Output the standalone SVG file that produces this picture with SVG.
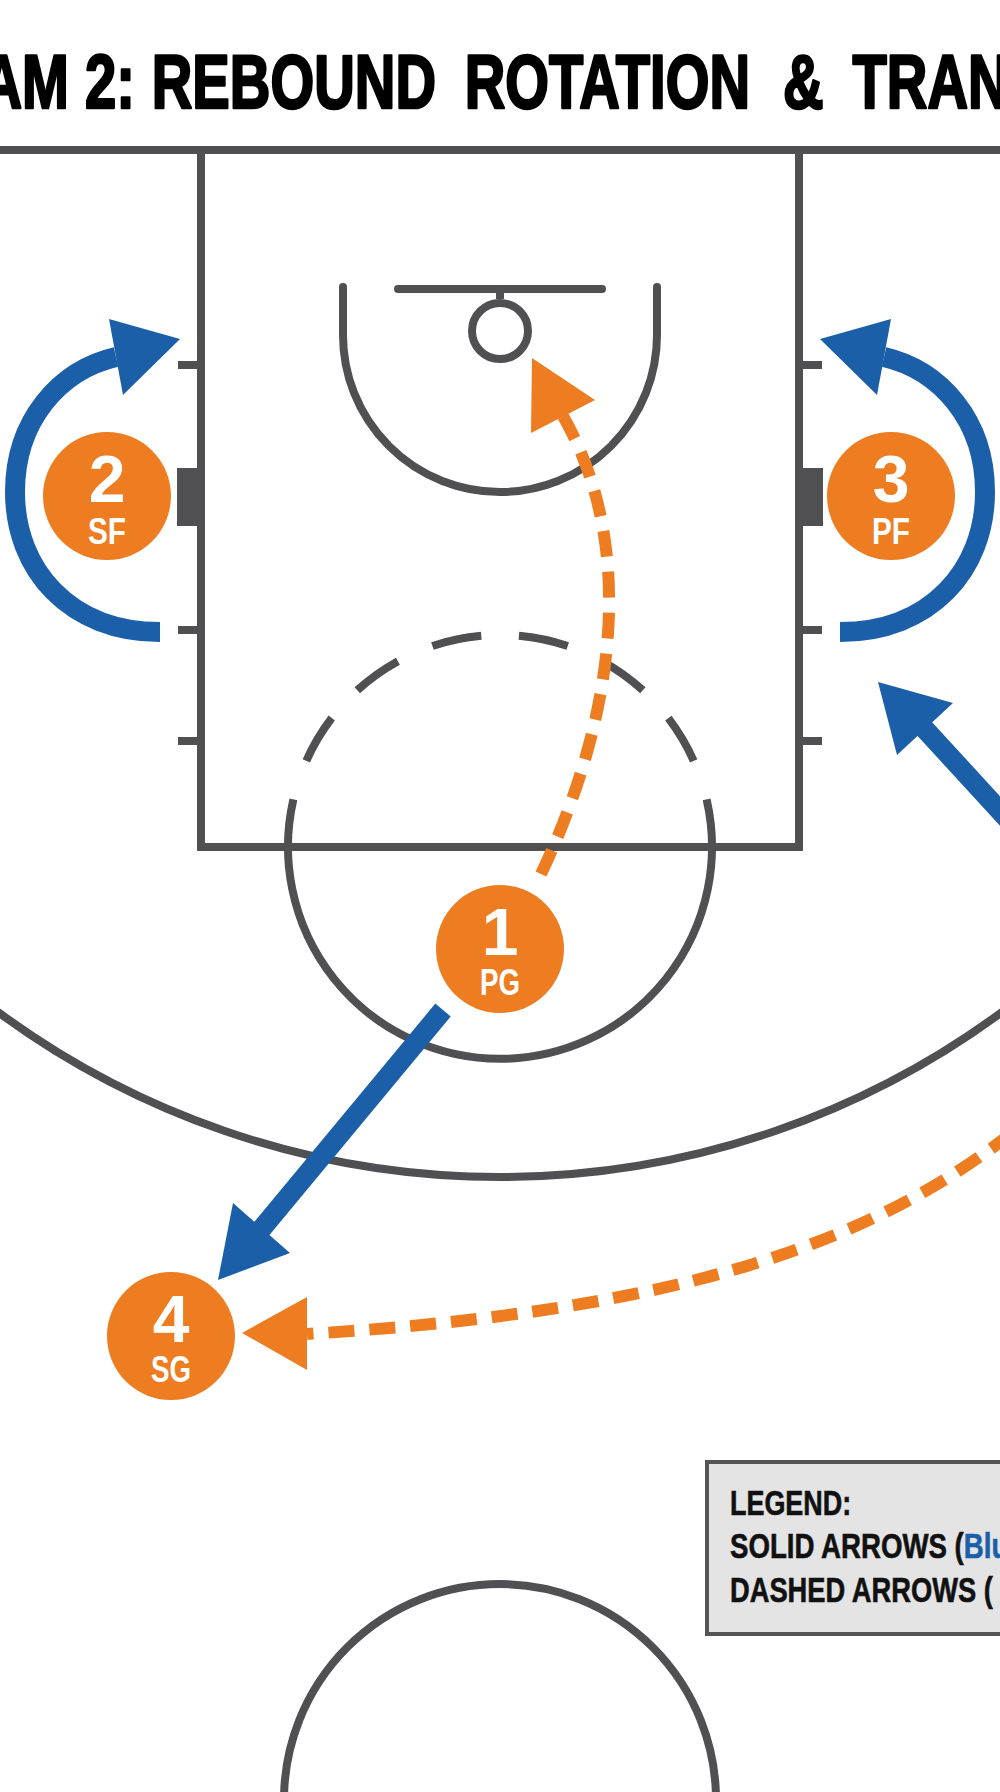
<svg xmlns="http://www.w3.org/2000/svg" width="1000" height="1792" viewBox="0 0 1000 1792">
<style>
.court{fill:none;stroke:#505052;stroke-width:8}
.blue{fill:none;stroke:#1c5fa9;stroke-width:20}
.bluehead{fill:#1c5fa9}
.orange{fill:none;stroke:#ee7d22;stroke-width:12;stroke-dasharray:26 15}
.orangehead{fill:#ee7d22}
.player{fill:#ee7d22}
.lbl{font-family:"Liberation Sans","Arial",sans-serif;font-weight:bold;fill:#ffffff;text-anchor:middle}
.num{font-size:66px}
.pos{font-size:37px}
.title{font-family:"Liberation Sans","Arial",sans-serif;font-weight:bold;fill:#000000;font-size:76px;stroke:#000000;stroke-width:2.6;stroke-linejoin:round}
.leg{font-family:"Liberation Sans","Arial",sans-serif;font-weight:bold;fill:#111111;font-size:35px;stroke:#111111;stroke-width:0.6}
</style>
<rect x="0" y="0" width="1000" height="1792" fill="#ffffff"/>

<g id="title">
<text class="title" transform="scale(0.74,1)" y="108"><tspan x="-25">AM </tspan><tspan x="115">2: </tspan><tspan x="205">REBOUND </tspan><tspan x="628">ROTATION </tspan><tspan x="1058">&amp; </tspan><tspan x="1152">TRAN</tspan></text>
</g>

<g id="court">
<line class="court" x1="0" y1="150" x2="1000" y2="150"/>
<path class="court" d="M201 150 L201 847 L799 847 L799 150"/>
<g fill="#505052">
<rect x="178" y="361" width="22" height="8"/>
<rect x="178" y="626" width="22" height="8"/>
<rect x="178" y="737" width="22" height="8"/>
<rect x="177" y="468" width="24" height="58"/>
<rect x="800" y="361" width="22" height="8"/>
<rect x="800" y="626" width="22" height="8"/>
<rect x="800" y="737" width="22" height="8"/>
<rect x="799" y="468" width="24" height="58"/>
<rect x="496" y="289" width="8" height="10"/>
</g>
<line class="court" x1="398" y1="289" x2="602" y2="289" stroke-width="9" stroke-linecap="round"/>
<circle class="court" cx="500" cy="331" r="28" stroke-width="9"/>
<path class="court" d="M343 287 L343 335 A157 157 0 0 0 657 335 L657 287" stroke-width="9" stroke-linecap="round"/>
<path class="court" d="M306.3 760.8 A212 212 0 0 1 693.7 760.8" stroke-dasharray="50 37.7"/>
<path class="court" d="M706.6 799.3 A212 212 0 1 1 293.4 799.3"/>
<path class="court" d="M-10 1006 A846 846 0 0 0 1010 1006"/>
<circle class="court" cx="500" cy="1800" r="216"/>
</g>

<g id="connectors">
<path class="blue" d="M160 632 C70 632 15 570 15 492 C15 420 60 370 116 357"/>
<polygon class="bluehead" points="180,339 109,319 123,395"/>
<path class="blue" d="M840 632 C930 632 985 570 985 492 C985 420 940 370 884 357"/>
<polygon class="bluehead" points="820,339 891,319 877,395"/>
<line class="blue" x1="1012" y1="824" x2="922" y2="726"/>
<polygon class="bluehead" points="878,682 953,703 897,755"/>
<line class="blue" x1="443" y1="1010" x2="258" y2="1233"/>
<polygon class="bluehead" points="218,1280 233,1203 290,1253"/>
<path class="orange" d="M541 874 C605 740 645 560 563 416"/>
<polygon class="orangehead" points="532,358 595,400 531,433"/>
<path class="orange" d="M1012 1133 C880 1235 700 1310 307 1334"/>
<polygon class="orangehead" points="242,1333 307,1297 307,1370"/>
</g>

<g id="player-2">
<circle class="player" cx="107" cy="496" r="64"/>
<text class="lbl"><tspan class="num" x="107" y="502">2</tspan><tspan class="pos" x="107" y="544" textLength="38" lengthAdjust="spacingAndGlyphs">SF</tspan></text>
</g>
<g id="player-3">
<circle class="player" cx="891" cy="496" r="64"/>
<text class="lbl"><tspan class="num" x="891" y="502">3</tspan><tspan class="pos" x="891" y="544" textLength="38" lengthAdjust="spacingAndGlyphs">PF</tspan></text>
</g>
<g id="player-1">
<circle class="player" cx="500" cy="949" r="64"/>
<text class="lbl"><tspan class="num" x="500" y="955">1</tspan><tspan class="pos" x="500" y="995" textLength="40" lengthAdjust="spacingAndGlyphs">PG</tspan></text>
</g>
<g id="player-4">
<circle class="player" cx="171" cy="1336" r="64"/>
<text class="lbl"><tspan class="num" x="171" y="1342">4</tspan><tspan class="pos" x="171" y="1382" textLength="40" lengthAdjust="spacingAndGlyphs">SG</tspan></text>
</g>

<g id="legend">
<rect x="707" y="1462" width="310" height="172" fill="#e4e4e4" stroke="#555555" stroke-width="4"/>
<text class="leg" transform="translate(730,1515) scale(0.77,1)">LEGEND:</text>
<text class="leg" transform="translate(730,1558) scale(0.79,1)">SOLID ARROWS (<tspan fill="#1c5fa9" stroke="#1c5fa9">Blu</tspan></text>
<text class="leg" transform="translate(730,1602) scale(0.78,1)">DASHED ARROWS (</text>
</g>
</svg>
